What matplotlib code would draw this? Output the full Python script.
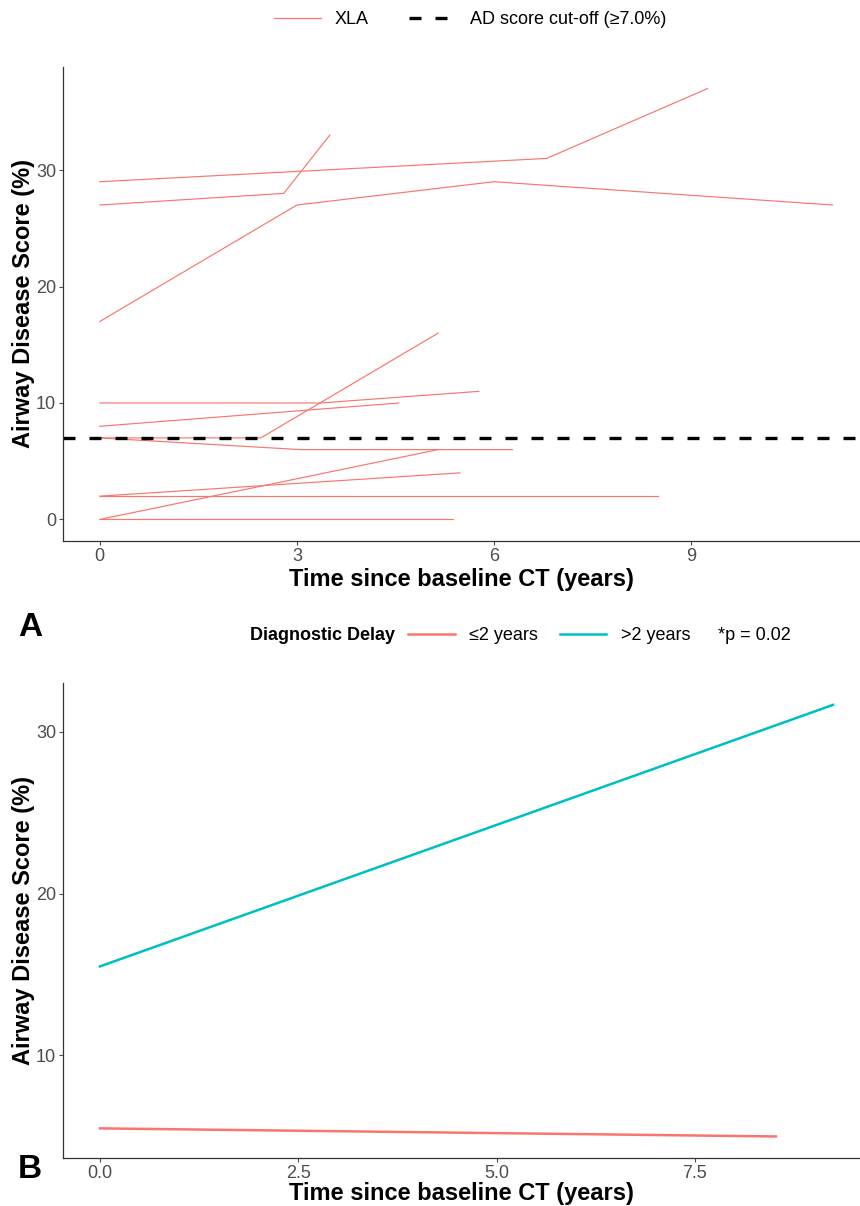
import matplotlib
matplotlib.use("Agg")
import matplotlib.pyplot as plt
from matplotlib.lines import Line2D

# Panel A: individual XLA patient trajectories (years since baseline CT, AD score %)
patient_times = [
    [0, 6.8, 9.25],
    [0, 2.8, 3.5],
    [0, 3.0, 6.0, 11.15],
    [0, 2.45, 5.15],
    [0, 3.35, 5.77],
    [0, 4.55],
    [0, 3.05, 6.28],
    [0, 5.15],
    [0, 5.48],
    [0, 8.5],
    [0, 5.38],
]
patient_scores = [
    [29, 31, 37],
    [27, 28, 33],
    [17, 27, 29, 27],
    [7, 7, 16],
    [10, 10, 11],
    [8, 10],
    [7, 6, 6],
    [0, 6],
    [2, 4],
    [2, 2],
    [0, 0],
]
cutoff = 7.0

# Panel B: fitted trajectories by diagnostic delay
delay_groups = ["≤2 years", ">2 years"]
group_times = [[0, 8.52], [0, 9.24]]
group_scores = [[5.5, 5.0], [15.5, 31.65]]

RED = "#F8766D"
CYAN = "#00BFC4"
TICK_GREY = "#4D4D4D"

plt.rcParams["font.family"] = ["Liberation Sans", "DejaVu Sans"]


def style_axes(ax, xpad):
    for side in ["top", "right"]:
        ax.spines[side].set_visible(False)
    for side in ["left", "bottom"]:
        ax.spines[side].set_color("#333333")
        ax.spines[side].set_linewidth(0.9)
    ax.tick_params(axis="both", colors=TICK_GREY, labelsize=13, length=3,
                   width=0.8, direction="out", pad=2)
    ax.set_ylabel("Airway Disease Score (%)", fontsize=17, fontweight="bold",
                  labelpad=1)
    ax.set_xlabel("Time since baseline CT (years)", fontsize=17, fontweight="bold",
                  labelpad=xpad)


fig = plt.figure(figsize=(8.6, 12.06), dpi=100)

# ---- Panel A ----
ax1 = fig.add_axes([63 / 860, 1 - 541 / 1206, 797 / 860, 474 / 1206])
for t, s in zip(patient_times, patient_scores):
    ax1.plot(t, s, color=RED, linewidth=0.85)
ax1.axhline(cutoff, color="black", linewidth=2.4, linestyle=(0, (3.6, 4.2)))
ax1.set_xlim(-0.56, 11.57)
ax1.set_ylim(-1.85, 38.85)
ax1.set_xticks([0, 3, 6, 9])
ax1.set_yticks([0, 10, 20, 30])
style_axes(ax1, 2)

handles_a = [Line2D([], [], color=RED, linewidth=0.9),
             Line2D([], [], color="black", linewidth=2.4, linestyle=(0, (3.6, 4.2)))]
fig.legend(handles_a, ["XLA", "AD score cut-off (≥7.0%)"], loc="center",
           bbox_to_anchor=(470 / 860, 1 - 20 / 1206), ncol=2, frameon=False,
           fontsize=13, handlelength=2.6, columnspacing=2.2, handletextpad=0.8)

fig.text(18 / 860, 1 - 628 / 1206, "A", fontsize=24, fontweight="bold",
         va="center", ha="left")

# ---- Panel B ----
ax2 = fig.add_axes([63 / 860, 1 - 1158 / 1206, 797 / 860, 475 / 1206])
colors = [RED, CYAN]
for t, s, c in zip(group_times, group_scores, colors):
    ax2.plot(t, s, color=c, linewidth=1.8)
ax2.set_xlim(-0.466, 9.58)
ax2.set_ylim(3.67, 33.0)
ax2.set_xticks([0, 2.5, 5.0, 7.5])
ax2.set_xticklabels(["0.0", "2.5", "5.0", "7.5"])
ax2.set_yticks([10, 20, 30])
style_axes(ax2, 0)

handles_b = [Line2D([], [], color=c, linewidth=1.8) for c in colors]
fig.text(323 / 860, 1 - 636 / 1206, "Diagnostic Delay", fontsize=13,
         fontweight="bold", ha="center", va="center")
fig.legend(handles_b, delay_groups, loc="center",
           bbox_to_anchor=(549 / 860, 1 - 636 / 1206), ncol=2, frameon=False,
           fontsize=13, handlelength=2.6, columnspacing=1.2, handletextpad=0.8)
fig.text(754 / 860, 1 - 636 / 1206, "*p = 0.02", fontsize=13,
         ha="center", va="center")

fig.text(18 / 860, 1 - 1169 / 1206, "B", fontsize=24, fontweight="bold",
         va="center", ha="left")

fig.savefig("out.png", dpi=100)
